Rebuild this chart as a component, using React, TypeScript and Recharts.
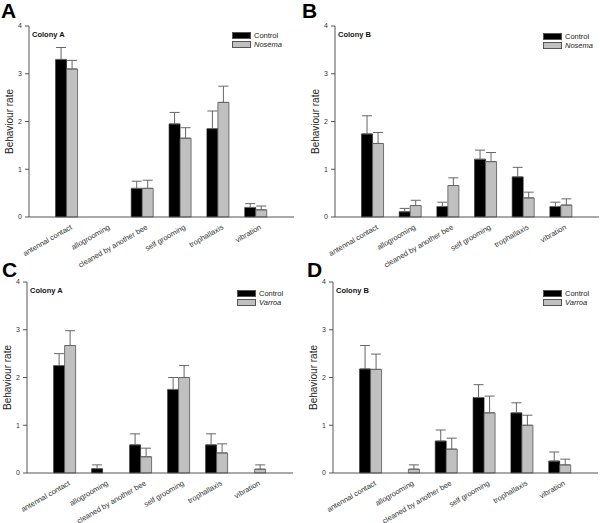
import { BarChart, Bar, XAxis, YAxis, ErrorBar, Legend } from "recharts";

const FONT = "'Liberation Sans', Arial, sans-serif";

const behaviours = [
  "antennal contact",
  "allogrooming",
  "cleaned by another bee",
  "self grooming",
  "trophallaxis",
  "vibration",
];
const yTicks = [0, 1, 2, 3, 4];

// panel A: colony A, control vs Nosema
const aControl = [3.3, 0, 0.6, 1.95, 1.85, 0.2];
const aControlErr = [0.25, 0, 0.15, 0.24, 0.37, 0.08];
const aNosema = [3.1, 0, 0.6, 1.65, 2.4, 0.15];
const aNosemaErr = [0.18, 0, 0.17, 0.22, 0.34, 0.08];

// panel B: colony B, control vs Nosema
const bControl = [1.74, 0.11, 0.22, 1.21, 0.84, 0.22];
const bControlErr = [0.38, 0.07, 0.09, 0.19, 0.2, 0.09];
const bNosema = [1.54, 0.24, 0.66, 1.16, 0.4, 0.25];
const bNosemaErr = [0.23, 0.11, 0.16, 0.19, 0.12, 0.13];

// panel C: colony A, control vs Varroa
const cControl = [2.25, 0.09, 0.59, 1.75, 0.59, 0];
const cControlErr = [0.25, 0.08, 0.23, 0.25, 0.23, 0];
const cVarroa = [2.67, 0, 0.34, 2.0, 0.42, 0.08];
const cVarroaErr = [0.31, 0, 0.18, 0.25, 0.19, 0.09];

// panel D: colony B, control vs Varroa
const dControl = [2.18, 0, 0.67, 1.58, 1.26, 0.25];
const dControlErr = [0.49, 0, 0.23, 0.27, 0.21, 0.19];
const dVarroa = [2.17, 0.08, 0.5, 1.26, 1.0, 0.17];
const dVarroaErr = [0.32, 0.09, 0.23, 0.35, 0.21, 0.12];

function buildRows(control: number[], controlErr: number[], treated: number[], treatedErr: number[]) {
  return behaviours.map((name, i) => ({
    name,
    control: control[i],
    controlErr: [0, controlErr[i]],
    treated: treated[i],
    treatedErr: [0, treatedErr[i]],
  }));
}

function YTitle({ viewBox }: any) {
  const cx = viewBox.x + viewBox.width - 16;
  const cy = viewBox.y + viewBox.height / 2;
  return (
    <text
      x={cx}
      y={cy}
      transform={`rotate(-90 ${cx} ${cy})`}
      textAnchor="middle"
      fontSize={10}
      fontFamily={FONT}
      fill="#222"
    >
      Behaviour rate
    </text>
  );
}

function LegendBox({ payload }: any) {
  return (
    <div style={{ fontFamily: FONT, fontSize: 7.5, color: "#222", lineHeight: "9px" }}>
      {(payload || []).map((entry: any, i: number) => (
        <div key={entry.value} style={{ display: "flex", alignItems: "center", height: 9 }}>
          <span
            style={{
              display: "inline-block",
              width: 17,
              height: 5,
              background: i === 0 ? "#000" : "#c0c0c0",
              border: "0.5px solid #555",
              marginRight: 3,
            }}
          />
          <span style={{ fontStyle: i === 0 ? "normal" : "italic" }}>{entry.value}</span>
        </div>
      ))}
    </div>
  );
}

interface PanelProps {
  letter: string;
  colony: string;
  treatment: string;
  rows: ReturnType<typeof buildRows>;
  left: number;
  top: number;
  height: number;
  axisWidth: number;
  rightMargin: number;
  legendLeft: number;
  legendTop: number;
  letterLeft: number;
  letterTop: number;
}

function Panel(p: PanelProps) {
  // plot bottom sits 26 + 191 px below the panel top; the rest is tick-label room
  const bottomMargin = p.height - 26 - 191 - 45;
  return (
    <>
      <div
        style={{
          position: "absolute",
          left: p.letterLeft,
          top: p.letterTop,
          fontFamily: FONT,
          fontWeight: "bold",
          fontSize: 21,
          lineHeight: "21px",
          color: "#000",
        }}
      >
        {p.letter}
      </div>
      <div style={{ position: "absolute", left: p.left, top: p.top, width: 300, height: p.height }}>
        <BarChart
          width={300}
          height={p.height}
          data={p.rows}
          margin={{ top: 26, right: p.rightMargin, left: 0, bottom: bottomMargin }}
          barCategoryGap="20%"
          barGap={0}
        >
          <XAxis
            dataKey="name"
            interval={0}
            height={45}
            padding={{ left: 19, right: 19 }}
            tickLine={false}
            tickSize={4}
            tickMargin={3}
            tick={{
              angle: -30,
              textAnchor: "end",
              verticalAnchor: "middle",
              dx: 3,
              fontSize: 7.5,
              fontFamily: FONT,
              fill: "#333",
            }}
            axisLine={{ stroke: "#555" }}
          />
          <XAxis
            xAxisId="top"
            dataKey="name"
            orientation="top"
            height={0}
            tick={false}
            tickLine={false}
            axisLine={{ stroke: "#555" }}
          />
          <YAxis
            width={p.axisWidth}
            domain={[0, 4]}
            ticks={yTicks}
            tickSize={4}
            tickMargin={3}
            tick={{ fontSize: 7, fill: "#333", fontFamily: FONT }}
            tickLine={{ stroke: "#555" }}
            axisLine={{ stroke: "#555" }}
            label={{ value: "Behaviour rate", content: YTitle }}
          />
          <YAxis
            yAxisId="right"
            orientation="right"
            width={0}
            domain={[0, 4]}
            tick={false}
            tickLine={false}
            axisLine={{ stroke: "#555" }}
          />
          <Legend
            layout="vertical"
            align="center"
            verticalAlign="middle"
            content={<LegendBox />}
            wrapperStyle={{ left: p.legendLeft, top: p.legendTop, width: "auto", height: "auto" }}
          />
          <Bar dataKey="control" name="Control" fill="#000" stroke="#222" strokeWidth={0.6} isAnimationActive={false}>
            <ErrorBar dataKey="controlErr" width={5} stroke="#666" strokeWidth={1} direction="y" />
          </Bar>
          <Bar dataKey="treated" name={p.treatment} fill="#c0c0c0" stroke="#555" strokeWidth={0.8} isAnimationActive={false}>
            <ErrorBar dataKey="treatedErr" width={5} stroke="#666" strokeWidth={1} direction="y" />
          </Bar>
        </BarChart>
        <div
          style={{
            position: "absolute",
            left: p.axisWidth + 3,
            top: 30,
            fontFamily: FONT,
            fontWeight: "bold",
            fontSize: 7.5,
            lineHeight: "9px",
            color: "#111",
          }}
        >
          {p.colony}
        </div>
      </div>
    </>
  );
}

export default function App() {
  return (
    <div style={{ position: "absolute", left: 0, top: 0, width: 600, height: 523, background: "#fff", overflow: "hidden" }}>
      <Panel
        letter="A"
        colony="Colony A"
        treatment="Nosema"
        rows={buildRows(aControl, aControlErr, aNosema, aNosemaErr)}
        left={0}
        top={0}
        height={272}
        axisWidth={29}
        rightMargin={6}
        legendLeft={232}
        legendTop={31}
        letterLeft={1}
        letterTop={0}
      />
      <Panel
        letter="B"
        colony="Colony B"
        treatment="Nosema"
        rows={buildRows(bControl, bControlErr, bNosema, bNosemaErr)}
        left={300}
        top={0}
        height={272}
        axisWidth={35}
        rightMargin={1}
        legendLeft={243}
        legendTop={32}
        letterLeft={302}
        letterTop={0}
      />
      <Panel
        letter="C"
        colony="Colony A"
        treatment="Varroa"
        rows={buildRows(cControl, cControlErr, cVarroa, cVarroaErr)}
        left={0}
        top={256}
        height={267}
        axisWidth={27}
        rightMargin={7}
        legendLeft={237}
        legendTop={33}
        letterLeft={2}
        letterTop={259}
      />
      <Panel
        letter="D"
        colony="Colony B"
        treatment="Varroa"
        rows={buildRows(dControl, dControlErr, dVarroa, dVarroaErr)}
        left={300}
        top={256}
        height={267}
        axisWidth={33}
        rightMargin={2}
        legendLeft={243}
        legendTop={33}
        letterLeft={307}
        letterTop={259}
      />
    </div>
  );
}
